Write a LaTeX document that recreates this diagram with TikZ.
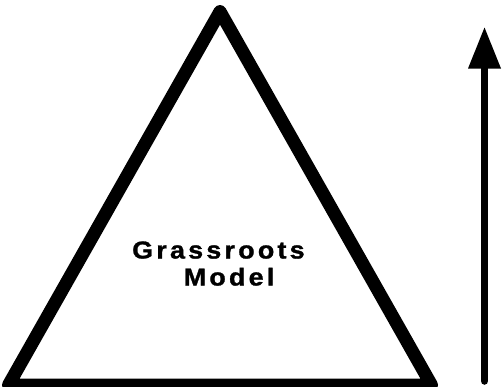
\documentclass[tikz,border=0pt]{standalone}
\usepackage{fontspec}
\newfontfamily\labelfont{Liberation Sans}[FakeStretch=1.1, FakeBold=1.2, LetterSpace=13]
\usetikzlibrary{arrows.meta}

\begin{document}
\begin{tikzpicture}[x=1pt, y=-1pt,
    edge/.style={line width=13pt, line join=round, black},
    uparr/.style={line width=7.5pt, line cap=round,
        -{Triangle[length=41pt, width=33pt, line width=0pt]}},
    label/.style={font=\labelfont\bfseries\fontsize{24.5}{26}\selectfont,
        inner sep=0pt, anchor=base west}
]
    \useasboundingbox (0,0) rectangle (502,386);

    % pyramid
    \coordinate (top) at (220,11.5);
    \coordinate (bl) at (8.5,385);
    \coordinate (br) at (431.5,385);
    \draw[edge] (top) -- (bl) -- (br) -- cycle;

    \node[label] (grass) at (132,258.5) {Grassroots};
    \node[label] (model) at (183.5,285.5) {Model};

    % direction
    \coordinate (arrfoot) at (484.5,381);
    \coordinate (arrtip) at (484.5,27.5);
    \draw[uparr] (arrfoot) -- (arrtip);
\end{tikzpicture}
\end{document}
